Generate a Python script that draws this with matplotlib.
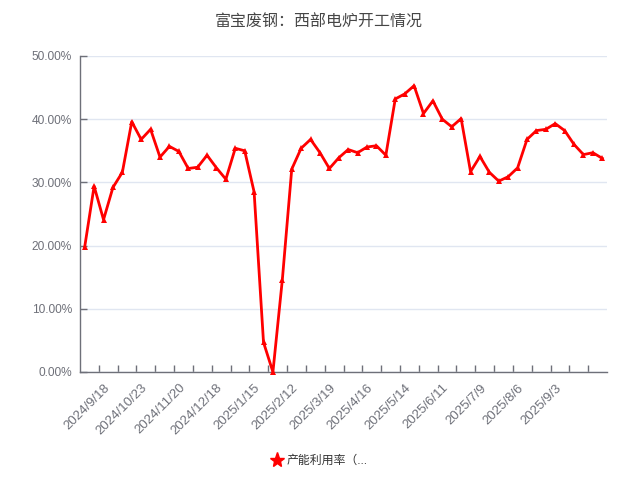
import matplotlib
matplotlib.use("Agg")
import matplotlib.pyplot as plt
from matplotlib.lines import Line2D
from matplotlib.ticker import FuncFormatter

plt.rcParams['font.family'] = ['Liberation Sans', 'Noto Sans CJK SC', 'DejaVu Sans']

# weekly dates (category axis)
dates = ["2024/9/4", "2024/9/11", "2024/9/18", "2024/9/25", "2024/10/9", "2024/10/16",
         "2024/10/23", "2024/10/30", "2024/11/6", "2024/11/13", "2024/11/20", "2024/11/27",
         "2024/12/4", "2024/12/11", "2024/12/18", "2024/12/25", "2025/1/1", "2025/1/8",
         "2025/1/15", "2025/1/22", "2025/1/29", "2025/2/5", "2025/2/12", "2025/2/19",
         "2025/2/26", "2025/3/12", "2025/3/19", "2025/3/26", "2025/4/2", "2025/4/9",
         "2025/4/16", "2025/4/23", "2025/4/30", "2025/5/7", "2025/5/14", "2025/5/21",
         "2025/5/28", "2025/6/4", "2025/6/11", "2025/6/18", "2025/6/25", "2025/7/2",
         "2025/7/9", "2025/7/16", "2025/7/23", "2025/7/30", "2025/8/6", "2025/8/13",
         "2025/8/20", "2025/8/27", "2025/9/3", "2025/9/10", "2025/9/17", "2025/9/24",
         "2025/10/1", "2025/10/15"]

# 产能利用率 (%)
utilization = [19.8, 29.4, 24.1, 29.2, 31.6, 39.6, 36.8, 38.4, 34.0, 35.7,
               34.9, 32.2, 32.4, 34.3, 32.3, 30.5, 35.4, 35.0, 28.5, 4.7,
               0.0, 14.6, 32.1, 35.4, 36.8, 34.7, 32.2, 33.9, 35.2, 34.7,
               35.6, 35.8, 34.3, 43.2, 44.0, 45.3, 40.9, 42.9, 40.0, 38.8,
               40.1, 31.7, 34.1, 31.6, 30.2, 30.9, 32.3, 36.8, 38.2, 38.4,
               39.3, 38.2, 36.0, 34.4, 34.7, 33.8]

label_idx = list(range(2, len(dates), 4))[:13]

axis_c = '#6E7079'
fig = plt.figure(figsize=(6.37, 4.88), dpi=100)
ax = fig.add_axes([80/637, 1 - 372/488, 527/637, 316/488])

x = list(range(len(utilization)))
ax.plot(x, utilization, color='#FF0000', lw=2, marker='^', markersize=4,
        markeredgewidth=0, zorder=3, clip_on=False)

ax.set_xlim(-0.5, len(dates) - 0.5)
ax.set_ylim(0, 50)
ax.set_yticks([0, 10, 20, 30, 40, 50])
ax.yaxis.set_major_formatter(FuncFormatter(lambda v, p: f"{v:.2f}%"))
ax.grid(axis='y', color='#E0E6F1', lw=1)
ax.set_axisbelow(True)

# ticks on band boundaries, labels at band centres
ax.set_xticks([k - 0.5 for k in range(2, len(dates), 2)])
ax.set_xticklabels([])
ax.set_xticks(label_idx, minor=True)
ax.set_xticklabels([dates[i] for i in label_idx], minor=True, rotation=45,
                   ha='right', va='top', rotation_mode='anchor')
ax.tick_params(axis='x', which='major', direction='in', length=5, color=axis_c, width=1)
ax.tick_params(axis='x', which='minor', length=0, pad=7, labelsize=9.5, labelcolor=axis_c)
ax.tick_params(axis='y', direction='in', length=5, color=axis_c, width=1,
               labelsize=8.6, labelcolor=axis_c, pad=5.8)

for s in ['top', 'right']:
    ax.spines[s].set_visible(False)
for s in ['left', 'bottom']:
    ax.spines[s].set_color(axis_c)
    ax.spines[s].set_linewidth(1)

fig.text(0.5, 1 - 22/488, "富宝废钢：西部电炉开工情况", ha='center', va='center',
         fontsize=11.5, color='#464646')

handle = Line2D([], [], color='#FF0000', marker='*', linestyle='none', markersize=11)
fig.legend([handle], ["产能利用率（..."], loc='center', bbox_to_anchor=(0.5, 1 - 461/488),
           frameon=False, fontsize=8.6, labelcolor='#333333', handletextpad=0.2,
           handlelength=1.2)

fig.savefig("out.png", dpi=100)
